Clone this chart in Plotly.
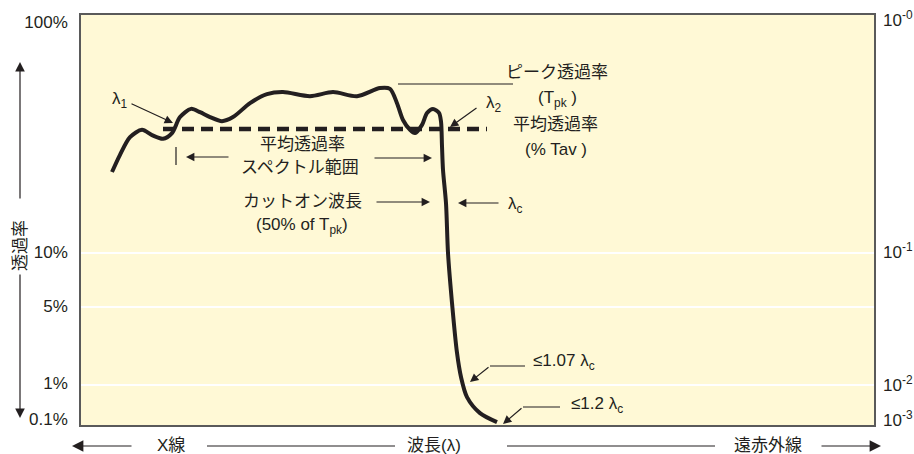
import plotly.graph_objects as go

# ---- data (wavelength in arbitrary units, transmission on the chart's display scale 0..100) ----
wavelength = [31, 39, 49, 61, 71, 82, 91, 99, 110, 119, 129, 141, 152, 169, 186, 202,
              229, 252, 276, 299, 309, 316, 322, 329, 334, 341, 346, 352, 358, 360,
              361, 362, 365, 367, 371, 376, 380, 386, 399, 416]
transmission = [61.7, 65.9, 70.2, 72.0, 70.7, 69.8, 71.2, 75.1, 77.1, 76.3, 75.1, 74.1, 75.1,
                78.5, 80.7, 81.2, 80.2, 81.2, 80.2, 82.2, 82.0, 78.5, 74.4, 72.0, 71.2, 73.2,
                76.1, 77.1, 76.1, 74.0, 68.0, 62.2, 54.1, 42.0, 29.8, 17.6, 11.7, 6.8, 2.9, 0.7]
avg_wavelength = [82, 406]
avg_transmission = [72.2, 72.2]

left_tick_pos = [98.3, 42.2, 29.0, 10.2, 1.5]
left_tick_text = ["100%", "10%", "5%", "1%", "0.1%"]
right_tick_pos = [98.8, 42.2, 9.8, 1.2]
right_tick_text = ["10<sup>-0</sup>", "10<sup>-1</sup>", "10<sup>-2</sup>", "10<sup>-3</sup>"]
grid_pos = [41.95, 28.8, 9.76]

INK = "#231f20"
FONT = "Liberation Sans, Arial, Noto Sans CJK JP"
W, H = 914, 454
L, R, T, B = 81, 874, 15, 425


def PX(px):
    return (px - L) / (R - L)


def PY(py):
    return (B - py) / (B - T)


fig = go.Figure()
fig.add_trace(go.Scatter(x=avg_wavelength, y=avg_transmission, mode="lines",
                         line=dict(color=INK, width=4.5, dash="12px,7px"),
                         hoverinfo="skip", showlegend=False))
fig.add_trace(go.Scatter(x=wavelength, y=transmission, mode="lines",
                         line=dict(color=INK, width=4, shape="spline", smoothing=0.8),
                         showlegend=False))
fig.add_trace(go.Scatter(x=[None], y=[None], yaxis="y2", showlegend=False))

anns = []


def text(px, py, s, xanchor="center", angle=0):
    anns.append(dict(x=PX(px), y=PY(py), xref="paper", yref="paper", text=s,
                     showarrow=False, xanchor=xanchor, yanchor="middle", textangle=angle,
                     font=dict(size=17, color=INK, family=FONT)))


def arrow(hx, hy, tx, ty, size=1.4, width=1.2):
    anns.append(dict(x=PX(hx), y=PY(hy), xref="paper", yref="paper", text="",
                     showarrow=True, axref="pixel", ayref="pixel", ax=tx - hx, ay=ty - hy,
                     arrowhead=2, arrowsize=size, arrowwidth=width, arrowcolor=INK,
                     standoff=0, startstandoff=0))


shapes = []


def line(x0, y0, x1, y1, width=1.2):
    shapes.append(dict(type="line", xref="paper", yref="paper", x0=PX(x0), y0=PY(y0),
                       x1=PX(x1), y1=PY(y1), line=dict(color=INK, width=width)))


# inside labels
text(120, 100, "λ<sub>1</sub>")
arrow(173, 123, 130, 103)
text(494, 104, "λ<sub>2</sub>")
arrow(450, 127, 478, 107)
text(557, 72, "ピーク透過率")
text(557, 99, "(T<sub>pk</sub> )")
line(398, 84, 513, 84)
text(555, 124, "平均透過率")
text(556, 150, "(% Tav )")
line(176, 147, 176, 165)
text(302, 145, "平均透過率")
text(300, 167, "スペクトル範囲")
arrow(186, 157, 230, 157)
arrow(432, 158, 373, 158)
text(302, 202, "カットオン波長")
text(302, 226, "(50% of T<sub>pk</sub>)")
arrow(430, 202, 375, 202)
arrow(458, 203, 500, 203)
text(506, 205, "λ<sub>c</sub>", xanchor="left")
text(531, 362, "≤1.07 λ<sub>c</sub>", xanchor="left")
line(490, 366, 525, 366)
arrow(470, 382, 490, 366)
text(569, 405, "≤1.2 λ<sub>c</sub>", xanchor="left")
line(523, 407, 560, 407)
arrow(503, 424, 523, 407)

# left axis title and arrows
text(20, 246, "透過率", angle=-90)
arrow(20, 62, 20, 200, size=1.6)
arrow(20, 418, 20, 273, size=1.6)

# bottom wavelength band
text(171, 445, "X線")
arrow(72, 446, 133, 446, size=1.9)
line(207, 446, 395, 446)
text(434, 445, "波長(λ)")
line(507, 446, 715, 446)
text(768, 445, "遠赤外線")
arrow(881, 446, 820, 446, size=1.9)

fig.update_layout(
    width=W, height=H,
    margin=dict(l=L, r=W - R, t=T, b=H - B, autoexpand=False),
    paper_bgcolor="white", plot_bgcolor="#FFF9D6",
    font=dict(family=FONT, size=17, color=INK),
    showlegend=False,
    xaxis=dict(range=[0, R - L], showticklabels=False, showgrid=False, zeroline=False,
               showline=True, mirror=True, linecolor="#5a5a5a", linewidth=1.5, ticks=""),
    yaxis=dict(range=[0, 100], tickvals=left_tick_pos, ticktext=left_tick_text,
               showgrid=False, zeroline=False, showline=True, mirror=True,
               linecolor="#5a5a5a", linewidth=1.5, ticks="", ticklabelstandoff=8),
    yaxis2=dict(range=[0, 100], overlaying="y", side="right", tickvals=right_tick_pos,
                ticktext=right_tick_text, showgrid=False, zeroline=False, showline=False,
                ticks="", ticklabelstandoff=8),
    annotations=anns, shapes=shapes,
)
fig.update_yaxes(minor=dict(tickvals=grid_pos, showgrid=True, gridcolor="white",
                            gridwidth=2, ticks=""), selector=dict(side="left"))
fig.layout.yaxis.minor = dict(tickvals=grid_pos, showgrid=True, gridcolor="white",
                              gridwidth=2, ticks="")

fig.write_html("out.html", config={"displayModeBar": False},
               post_script="document.body.style.margin='0';document.body.style.overflow='hidden';")
